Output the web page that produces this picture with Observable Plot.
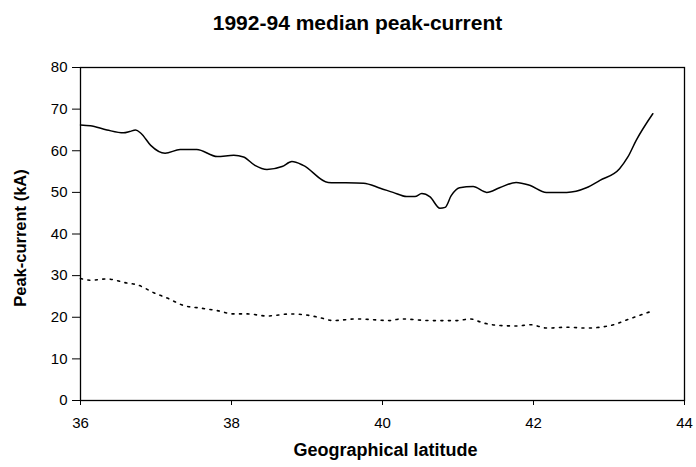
<!DOCTYPE html>
<html><head><meta charset="utf-8">
<script src="https://cdn.jsdelivr.net/npm/d3@7"></script>
<script src="https://cdn.jsdelivr.net/npm/@observablehq/plot@0.6"></script>
<style>body{margin:0;background:#fff}</style>
</head><body><div id="chart"></div>
<script>
const titleText = "1992-94 median peak-current";
const xLabel = "Geographical latitude";
const yLabel = "Peak-current (kA)";
const xTicks = [36, 38, 40, 42, 44];
const yTicks = [0, 10, 20, 30, 40, 50, 60, 70, 80];

const solidLat = [36.00,36.13,36.35,36.57,36.65,36.73,36.80,36.93,37.12,37.32,37.54,37.81,38.03,38.16,38.31,38.47,38.67,38.80,38.95,39.28,39.75,39.97,40.14,40.32,40.43,40.52,40.63,40.76,40.83,40.91,41.02,41.20,41.38,41.55,41.77,41.95,42.17,42.44,42.70,42.88,43.14,43.25,43.36,43.58];
const solidVal = [66.2,66.0,65.0,64.3,64.6,65.0,64.2,61.3,59.4,60.3,60.3,58.6,58.9,58.5,56.5,55.5,56.2,57.4,56.5,52.4,52.2,51.0,50.0,49.0,49.0,49.7,48.9,46.2,46.4,49.2,51.1,51.4,50.0,51.1,52.4,51.7,50.0,50.0,51.1,52.9,55.7,58.5,62.5,68.9];

const dotLat = [36.00,36.13,36.35,36.62,36.75,36.97,37.15,37.37,37.59,37.81,38.03,38.21,38.47,38.78,39.04,39.17,39.35,39.66,39.88,40.10,40.24,40.63,40.99,41.16,41.34,41.56,41.78,41.96,42.18,42.44,42.71,42.88,43.06,43.24,43.46,43.59];
const dotVal = [29.3,28.9,29.2,28.2,27.8,25.9,24.6,22.8,22.2,21.6,20.8,20.8,20.3,20.8,20.4,19.9,19.2,19.6,19.4,19.2,19.6,19.2,19.2,19.6,18.6,18.0,17.9,18.2,17.4,17.6,17.4,17.6,18.2,19.4,20.8,21.6];

const solid = solidLat.map((x, i) => ({x, y: solidVal[i]}));
const dotted = dotLat.map((x, i) => ({x, y: dotVal[i]}));

const chart = Plot.plot({
  width: 696,
  height: 467,
  marginLeft: 80,
  marginRight: 12,
  marginTop: 67,
  marginBottom: 67,
  style: {fontFamily: "'Liberation Sans', Arial, sans-serif", fontSize: "15px", color: "#000", background: "#fff"},
  x: {domain: [36, 44]},
  y: {domain: [0, 80]},
  marks: [
    Plot.frame({stroke: "#000", strokeWidth: 1.3}),
    Plot.axisX({ticks: xTicks, tickSize: 5, tickPadding: 12, label: null, fontSize: 15, stroke: "#000"}),
    Plot.axisY({ticks: yTicks, tickSize: 8, tickPadding: 5, label: null, fontSize: 15, stroke: "#000"}),
    Plot.line(dotted, {x: "x", y: "y", stroke: "#000", strokeWidth: 1.6, strokeDasharray: "2,5.5", curve: "monotone-x"}),
    Plot.line(solid, {x: "x", y: "y", stroke: "#000", strokeWidth: 1.5, curve: "monotone-x"}),
    Plot.text([titleText], {frameAnchor: "top", dx: -25, dy: -52, fontWeight: "bold", fontSize: 21, fill: "#000"}),
    Plot.text([xLabel], {frameAnchor: "bottom", dx: 3, dy: 55, fontWeight: "bold", fontSize: 18, letterSpacing: "0.5px", fill: "#000"}),
    Plot.text([yLabel], {frameAnchor: "left", dx: -60, dy: 4, rotate: -90, textAnchor: "middle", fontWeight: "bold", fontSize: 16.5, fill: "#000"})
  ]
});
document.getElementById("chart").appendChild(chart);
</script>
</body></html>
